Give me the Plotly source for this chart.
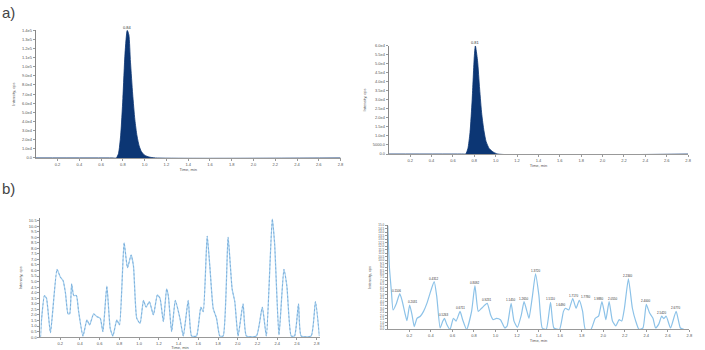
import plotly.graph_objects as go

# ---------------- data ----------------
# (a) left: chromatogram peak (Time, min ; Intensity, cps)
a1_time = [0.0, 0.70, 0.74, 0.76, 0.78, 0.80, 0.82, 0.84, 0.855, 0.87, 0.89, 0.91, 0.93, 0.95, 0.97, 1.00, 1.04, 1.10, 2.80]
a1_int = [0, 0, 0, 5000, 25000, 65000, 115000, 140000, 135000, 105000, 70000, 42000, 24000, 13000, 7000, 3000, 1000, 0, 0]
a1_peak_time = [0.84]
a1_peak_int = [140000]
a1_peak_label = ["0.84"]

# (a) right
a2_time = [0.0, 0.70, 0.72, 0.74, 0.76, 0.78, 0.80, 0.81, 0.83, 0.85, 0.87, 0.89, 0.91, 0.94, 0.98, 1.02, 2.80]
a2_int = [0, 0, 0, 3000, 12000, 30000, 54000, 60000, 52000, 36000, 22000, 13000, 7000, 3000, 1000, 0, 0]
a2_peak_time = [0.81]
a2_peak_int = [60000]
a2_peak_label = ["0.81"]

# (b) left: noisy trace
b1_time = [0.000, 0.010, 0.040, 0.061, 0.101, 0.168, 0.202, 0.229, 0.253, 0.279, 0.296, 0.316,
           0.337, 0.364, 0.387, 0.431, 0.471, 0.498, 0.539, 0.572, 0.606, 0.633, 0.673, 0.707,
           0.734, 0.774, 0.801, 0.848, 0.882, 0.919, 0.943, 0.976, 1.010, 1.044, 1.071, 1.104,
           1.145, 1.185, 1.212, 1.246, 1.279, 1.296, 1.330, 1.367, 1.414, 1.448, 1.498, 1.532,
           1.582, 1.626, 1.650, 1.690, 1.717, 1.751, 1.785, 1.818, 1.852, 1.902, 1.943, 1.970,
           2.003, 2.054, 2.088, 2.189, 2.249, 2.290, 2.350, 2.374, 2.418, 2.468, 2.498, 2.542,
           2.576, 2.616, 2.643, 2.744, 2.788, 2.828]
b1_int = [0.0, 1.5, 3.75, 3.5, 0.4, 6.1, 5.4, 5.1, 4.0, 2.1, 2.1, 4.8,
          3.75, 3.75, 2.3, 0.1, 1.55, 1.1, 2.1, 1.85, 1.7, 0.5, 4.6, 0.8,
          0.1, 1.55, 1.1, 8.5, 6.25, 7.4, 6.4, 1.7, 1.25, 3.3, 2.7, 3.2,
          2.0, 3.8, 3.5, 1.4, 4.35, 3.75, 0.5, 3.3, 1.7, 0.1, 3.3, 0.1,
          0.1, 2.7, 2.3, 9.1, 6.4, 2.6, 1.7, 0.1, 0.1, 9.0, 4.35, 3.2,
          0.1, 3.0, 0.1, 0.1, 2.7, 0.1, 10.65, 8.4, 0.2, 6.1, 4.6, 0.1,
          0.1, 3.0, 0.1, 0.1, 3.2, 0.1]

# (b) right: noisy trace with labelled peaks
b2_time = [0.000, 0.015, 0.034, 0.049, 0.080, 0.111, 0.132, 0.163, 0.178, 0.203, 0.225, 0.246,
           0.271, 0.302, 0.332, 0.363, 0.400, 0.431, 0.455, 0.486, 0.511, 0.526, 0.548, 0.578,
           0.609, 0.634, 0.671, 0.695, 0.732, 0.778, 0.809, 0.840, 0.871, 0.923, 0.954, 0.978,
           1.009, 1.046, 1.086, 1.108, 1.145, 1.172, 1.203, 1.240, 1.265, 1.292, 1.311, 1.342,
           1.372, 1.403, 1.434, 1.471, 1.511, 1.542, 1.594, 1.631, 1.649, 1.680, 1.717, 1.748,
           1.778, 1.809, 1.834, 1.886, 1.926, 1.957, 1.988, 2.009, 2.025, 2.055, 2.086, 2.117,
           2.148, 2.172, 2.197, 2.234, 2.271, 2.302, 2.332, 2.369, 2.400, 2.431, 2.462, 2.486,
           2.517, 2.542, 2.563, 2.585, 2.625, 2.677, 2.717, 2.748]
b2_int = [15.0, 9.0, 5.4, 2.8, 3.75, 5.15, 4.2, 2.1, 1.27, 3.5, 2.1, 0.4,
          1.6, 1.9, 2.6, 3.75, 5.6, 6.9, 4.7, 0.2, 1.2, 1.6, 0.7, 0.0,
          1.6, 1.2, 2.6, 1.4, 0.0, 2.6, 6.3, 2.6, 3.05, 3.75, 2.1, 1.4,
          1.6, 1.4, 0.2, 0.5, 3.75, 1.2, 0.3, 2.1, 4.0, 2.6, 1.6, 4.7,
          8.0, 4.9, 0.2, 0.0, 3.9, 0.2, 0.0, 2.6, 3.05, 2.8, 4.45, 3.05,
          4.2, 2.6, 0.0, 0.0, 1.6, 1.9, 4.0, 2.6, 1.4, 4.0, 1.2, 0.5,
          1.4, 1.2, 3.05, 7.3, 3.05, 1.2, 0.0, 0.2, 3.6, 2.35, 1.6, 0.2,
          0.8, 1.9, 1.55, 1.9, 0.2, 2.6, 0.2, 0.0]
b2_peak_time = [0.111, 0.203, 0.431, 0.526, 0.671, 0.809, 0.923, 1.145, 1.265, 1.372, 1.511,
                1.649, 1.717, 1.778, 1.988, 2.055, 2.234, 2.400, 2.542, 2.677]
b2_peak_int = [5.15, 3.5, 6.9, 1.6, 2.6, 6.3, 3.75, 3.75, 4.0, 8.0, 3.9,
               3.05, 4.45, 4.2, 4.0, 4.0, 7.3, 3.6, 1.9, 2.6]
b2_peak_label = ["0.1106", "0.2031", "0.4312", "0.5263", "0.6711", "0.8092", "0.9231",
                 "1.1450", "1.2650", "1.3720", "1.5110", "1.6490", "1.7170", "1.7780",
                 "1.9880", "2.0550", "2.2340", "2.4000", "2.5420", "2.6770"]

# tick labels
x_tickvals = [0.2, 0.4, 0.6, 0.8, 1.0, 1.2, 1.4, 1.6, 1.8, 2.0, 2.2, 2.4, 2.6, 2.8]
x_ticktext = ["0.2", "0.4", "0.6", "0.8", "1.0", "1.2", "1.4", "1.6", "1.8", "2.0", "2.2", "2.4", "2.6", "2.8"]
a1_ytickvals = [0, 10000, 20000, 30000, 40000, 50000, 60000, 70000, 80000, 90000, 100000, 110000, 120000, 130000, 140000]
a1_yticktext = ["0.0", "1.0e4", "2.0e4", "3.0e4", "4.0e4", "5.0e4", "6.0e4", "7.0e4", "8.0e4", "9.0e4",
                "1.0e5", "1.1e5", "1.2e5", "1.3e5", "1.4e5"]
a2_ytickvals = [0, 5000, 10000, 15000, 20000, 25000, 30000, 35000, 40000, 45000, 50000, 55000, 60000]
a2_yticktext = ["0.0", "5000.0", "1.0e4", "1.5e4", "2.0e4", "2.5e4", "3.0e4", "3.5e4", "4.0e4", "4.5e4",
                "5.0e4", "5.5e4", "6.0e4"]
b1_ytickvals = [i * 0.5 for i in range(22)]
b1_yticktext = ["%.1f" % v for v in b1_ytickvals]
b2_ytickvals = [i * 0.5 for i in range(31)]
b2_yticktext = ["%.1f" % v for v in b2_ytickvals]

# label nudges (pixels) to keep neighbouring peak labels apart
b2_label_xshift = [-3, 3, 0, 0, 0, 0, 0, 0, 0, 0, 0, -4, 1, 7, -3, 4, 0, 0, 0, 0]

# ---------------- figure ----------------
W, H = 705, 350
def px(x):
    return x / W
def py(y):
    return (H - y) / H

fig = go.Figure()

NAVY = "#0c3674"
fig.add_trace(go.Scatter(x=a1_time, y=a1_int, mode="lines", line=dict(color=NAVY, width=0.8, shape="spline", smoothing=0.6),
                         fill="tozeroy", fillcolor=NAVY, xaxis="x", yaxis="y", hoverinfo="skip"))
fig.add_trace(go.Scatter(x=a2_time, y=a2_int, mode="lines", line=dict(color=NAVY, width=0.8, shape="spline", smoothing=0.6),
                         fill="tozeroy", fillcolor=NAVY, xaxis="x2", yaxis="y2", hoverinfo="skip"))
fig.add_trace(go.Scatter(x=b1_time, y=b1_int, mode="lines", line=dict(color="#a7d0ee", width=1.3, shape="spline", smoothing=0.5),
                         xaxis="x3", yaxis="y3", hoverinfo="skip"))
fig.add_trace(go.Scatter(x=b1_time, y=b1_int, mode="lines", line=dict(color="#5f9ad0", width=0.6, dash="2px,2px", shape="spline", smoothing=0.5),
                         xaxis="x3", yaxis="y3", hoverinfo="skip"))
fig.add_trace(go.Scatter(x=b2_time, y=b2_int, mode="lines", line=dict(color="#8cc2e8", width=1.2, shape="spline", smoothing=0.5),
                         xaxis="x4", yaxis="y4", hoverinfo="skip"))

TF = dict(family="Liberation Sans, Arial", size=4, color="#555")
TF3 = dict(family="Liberation Sans, Arial", size=3, color="#555")
def xax(domain, anchor, rng):
    return dict(domain=domain, anchor=anchor, range=rng, tickvals=x_tickvals, ticktext=x_ticktext,
                showgrid=False, zeroline=False, showline=True, linecolor="#999", linewidth=1,
                ticks="outside", ticklen=2, tickcolor="#999", tickfont=TF,
                title=dict(text="Time, min", font=TF, standoff=1))
def yax(domain, anchor, rng, tv, tt, tf=TF):
    return dict(domain=domain, anchor=anchor, range=rng, tickvals=tv, ticktext=tt,
                showgrid=False, zeroline=False, showline=True, linecolor="#888", linewidth=1,
                ticks="outside", ticklen=2, tickcolor="#999", tickfont=tf,
                title=dict(text="Intensity, cps", font=TF, standoff=6))

fig.update_layout(
    width=W, height=H, margin=dict(l=0, r=0, t=0, b=0),
    paper_bgcolor="white", plot_bgcolor="white", showlegend=False,
    xaxis=xax([px(36), px(342.5)], "y", [0, 2.8]),
    yaxis=yax([py(159), py(28)], "x", [0, 140000], a1_ytickvals, a1_yticktext),
    xaxis2=xax([px(391), px(692)], "y2", [0, 2.8]),
    yaxis2=yax([py(155), py(44)], "x2", [0, 60000], a2_ytickvals, a2_yticktext),
    xaxis3=xax([px(40.7), px(40.7 + 2.83 * 99.2)], "y3", [0, 2.83]),
    yaxis3=yax([py(343), py(221)], "x3", [0, 10.7], b1_ytickvals, b1_yticktext),
    xaxis4=xax([px(390), px(693.3)], "y4", [0, 2.8]),
    yaxis4=yax([py(335), py(228.3)], "x4", [0, 15], b2_ytickvals, b2_yticktext, TF3),
)

ann = []
LF = dict(family="Liberation Sans, Arial", size=4, color="#333")
LF3 = dict(family="Liberation Sans, Arial", size=3, color="#333")
for t, v, s in zip(a1_peak_time, a1_peak_int, a1_peak_label):
    ann.append(dict(x=t, y=v, xref="x", yref="y", text=s, showarrow=False, yshift=3, font=LF))
for t, v, s in zip(a2_peak_time, a2_peak_int, a2_peak_label):
    ann.append(dict(x=t, y=v, xref="x2", yref="y2", text=s, showarrow=False, yshift=3, font=LF))
for t, v, s, dx in zip(b2_peak_time, b2_peak_int, b2_peak_label, b2_label_xshift):
    ann.append(dict(x=t, y=v, xref="x4", yref="y4", text=s, showarrow=False, yshift=3, xshift=dx, font=LF3))
ann.append(dict(x=0, y=py(10), xref="paper", yref="paper", xanchor="left", yanchor="middle", text="a)",
                showarrow=False, font=dict(family="Liberation Sans, Arial", size=15, color="#444")))
ann.append(dict(x=0, y=py(190), xref="paper", yref="paper", xanchor="left", yanchor="middle", text="b)",
                showarrow=False, font=dict(family="Liberation Sans, Arial", size=15, color="#444")))
fig.update_layout(annotations=ann)

fig.write_html("out.html")
